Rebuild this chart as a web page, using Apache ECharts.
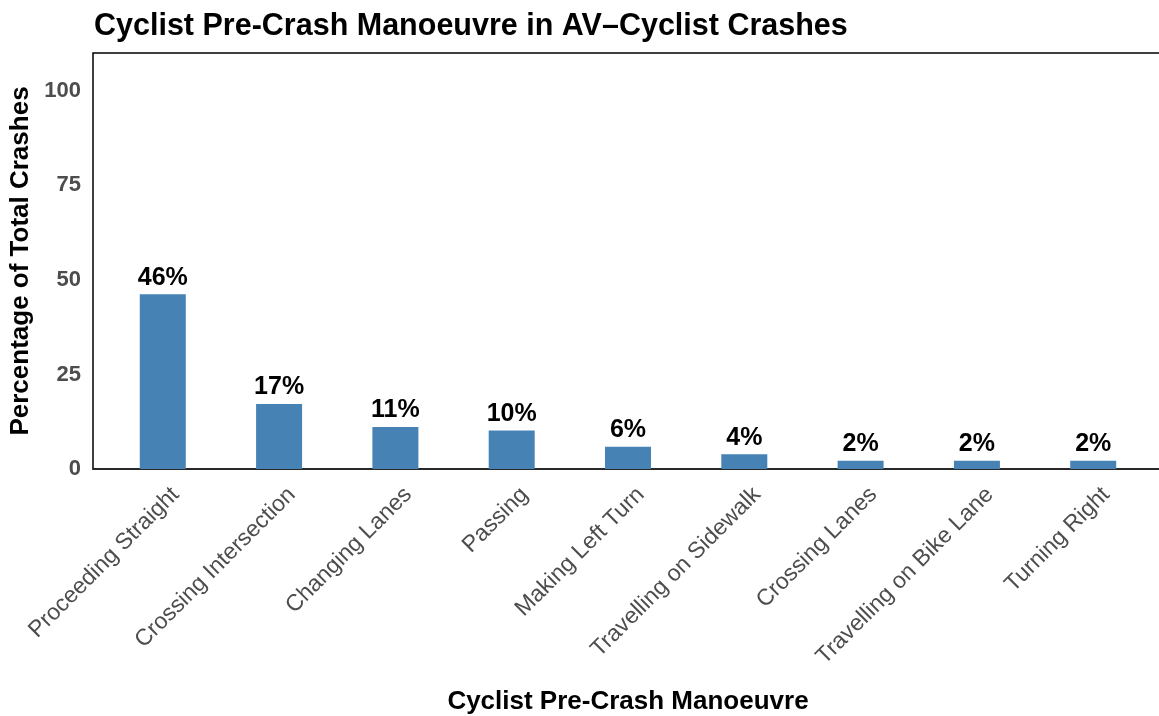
<!DOCTYPE html>
<html>
<head>
<meta charset="utf-8">
<script src="https://cdn.jsdelivr.net/npm/echarts@6/dist/echarts.min.js"></script>
<style>
  html, body { margin: 0; padding: 0; background: #fff; }
  #chart { width: 1159px; height: 716px; }
</style>
</head>
<body>
<div id="chart"></div>
<script>
// cyclist pre-crash manoeuvres, share of total AV-cyclist crashes (%)
const manoeuvres = ['Proceeding Straight', 'Crossing Intersection', 'Changing Lanes', 'Passing',
  'Making Left Turn', 'Travelling on Sidewalk', 'Crossing Lanes', 'Travelling on Bike Lane', 'Turning Right'];
const percents = [46.2, 17.2, 11.1, 10.2, 5.9, 3.9, 2.2, 2.2, 2.2];
const yTicks = [0, 25, 50, 75, 100];

const font = '"Liberation Sans", Arial, sans-serif';
// labels hang a little to the right of their bar, like ggplot's hjust = 1 at 45 degrees
const labelShift = 0.04;

let chart = echarts.init(document.getElementById('chart'));
chart.setOption({
  animation: false,
  textStyle: { fontFamily: font },
  title: {
    text: 'Cyclist Pre-Crash Manoeuvre in AV\u2013Cyclist Crashes',
    left: 89, top: 6,
    textStyle: { fontSize: 30.5, fontWeight: 'bold', color: '#000', fontFamily: font }
  },
  // panel runs slightly past the right edge of the picture, so no right border shows
  grid: {
    left: 93, width: 1070, top: 53, bottom: 247,
    outerBoundsMode: 'none', containLabel: false,
    show: true, borderColor: '#000', borderWidth: 1.5, backgroundColor: '#fff'
  },
  xAxis: {
    type: 'value',
    min: -0.6, max: 8.6,
    name: 'Cyclist Pre-Crash Manoeuvre',
    nameLocation: 'middle',
    nameGap: 220,
    nameTextStyle: { fontSize: 26, fontWeight: 'bold', color: '#000' },
    axisLine: { lineStyle: { color: '#222', width: 1.5 } },
    axisTick: { show: false },
    splitLine: { show: false },
    axisLabel: {
      rotate: 45, fontSize: 23, color: '#4d4d4d', margin: 14,
      align: 'right', verticalAlign: 'top',
      customValues: manoeuvres.map((m, i) => i + labelShift),
      formatter: v => manoeuvres[Math.round(v - labelShift)] || ''
    }
  },
  yAxis: {
    type: 'value',
    min: 0, max: 110, interval: 25,
    name: 'Percentage of Total Crashes',
    nameLocation: 'middle',
    nameGap: 55,
    nameTextStyle: { fontSize: 26, fontWeight: 'bold', color: '#000' },
    axisLine: { show: false },
    axisTick: { show: false },
    splitLine: { show: false },
    axisLabel: {
      fontSize: 22, fontWeight: 'bold', color: '#4d4d4d', margin: 12,
      formatter: v => (yTicks.indexOf(v) >= 0 ? String(v) : '')
    }
  },
  series: [{
    type: 'bar',
    data: percents.map((p, i) => [i, p]),
    barWidth: 46,
    itemStyle: { color: '#4682b4' },
    label: {
      show: true, position: 'top', distance: 4,
      fontSize: 25, fontWeight: 'bold', color: '#000',
      formatter: p => Math.round(p.value[1]) + '%'
    }
  }]
});
</script>
</body>
</html>
